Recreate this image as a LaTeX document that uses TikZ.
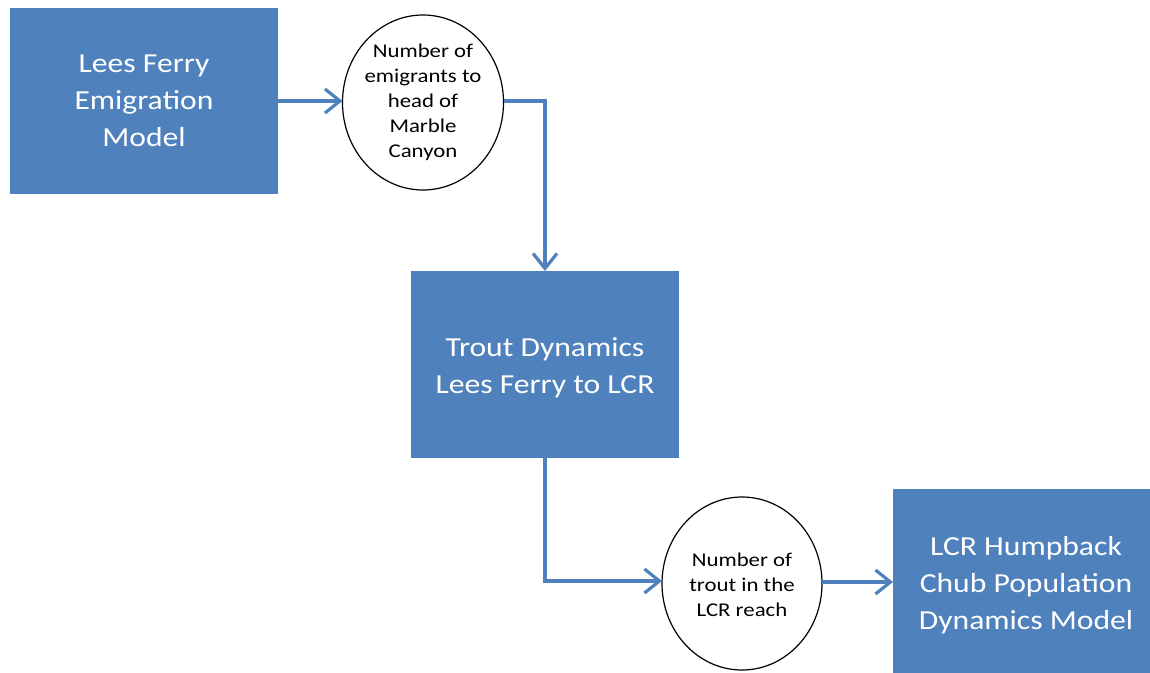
\documentclass[tikz,border=0pt]{standalone}
\usepackage{fontspec}
\setmainfont{Carlito}
\newfontfamily\wfont[FakeStretch=1.15]{Carlito}
\newfontfamily\efont[FakeStretch=1.17]{Carlito}
\usetikzlibrary{arrows.meta}
\definecolor{boxblue}{HTML}{4F81BD}
\begin{document}
\begin{tikzpicture}[x=1pt,y=-1pt,
  bluebox/.style={text=white, font=\wfont\fontsize{27.5}{37}\selectfont, align=center, inner sep=0pt},
  circtext/.style={font=\efont\fontsize{19.5}{25}\selectfont, align=center, inner sep=0pt},
  flow/.style={draw=boxblue, line width=3.2pt, -{Straight Barb[length=15pt,width=24pt,line width=3.2pt]}}
]
\useasboundingbox (0,0) rectangle (1150,672);
\clip (0,0) rectangle (1150,672);
\fill[boxblue] (10,8) rectangle (278,194);
\node[bluebox] (lf) at (144,101) {Lees Ferry\\Emigration\\Model};
\coordinate (lfr) at (278,101);
\draw[line width=1.2pt] (423,102.5) ellipse [x radius=80.5, y radius=87.5];
\node[circtext] (e1) at (423,102) {Number of\\emigrants to\\head of\\Marble\\Canyon};
\coordinate (e1l) at (342.5,101);
\coordinate (e1r) at (503.5,101);
\fill[boxblue] (411,271) rectangle (679,458);
\node[bluebox] (td) at (545,367.5) {Trout Dynamics\\Lees Ferry to LCR};
\coordinate (tdt) at (545,271);
\coordinate (tdb) at (545,458);
\draw[line width=1.2pt] (742,583.5) ellipse [x radius=80, y radius=86.5];
\node[circtext] (e2) at (742,585) {Number of\\trout in the\\LCR reach};
\coordinate (e2l) at (662,581);
\coordinate (e2r) at (822,582);
\fill[boxblue] (893,489) rectangle (1160,680);
\node[bluebox] (hc) at (1026,585) {LCR Humpback\\Chub Population\\Dynamics Model};
\coordinate (hcl) at (893,582);
\draw[flow] (lfr) -- (e1l);
\draw[flow] (e1r) -| (tdt);
\draw[flow] (tdb) |- (e2l);
\draw[flow] (e2r) -- (hcl);
\end{tikzpicture}
\end{document}
